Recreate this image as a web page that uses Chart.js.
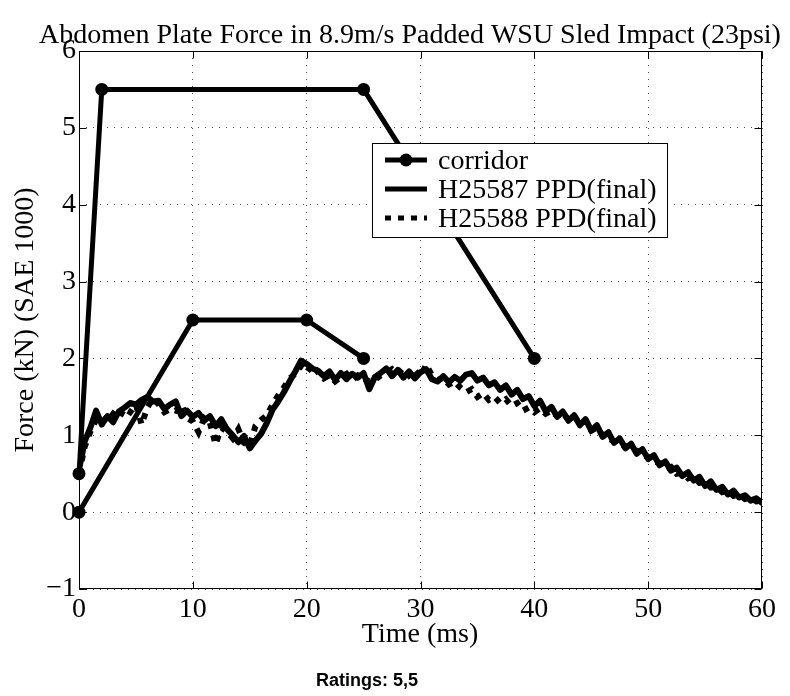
<!DOCTYPE html>
<html><head><meta charset="utf-8">
<script src="https://cdn.jsdelivr.net/npm/chart.js@4/dist/chart.umd.min.js"></script>
<style>html,body{margin:0;padding:0;background:#fff;} canvas{display:block;}</style>
</head><body>
<canvas id="c" width="790" height="696"></canvas>
<script>
const chartTitle = 'Abdomen Plate Force in 8.9m/s Padded WSU Sled Impact (23psi)';
const xAxisTitle = 'Time (ms)';
const yAxisTitle = 'Force (kN) (SAE 1000)';
const footnote = 'Ratings: 5,5';
const seriesNames = ['corridor', 'H25587 PPD(final)', 'H25588 PPD(final)'];
const xTickValues = [0, 10, 20, 30, 40, 50, 60];
const yTickValues = [-1, 0, 1, 2, 3, 4, 5, 6];

const corridorUpperTime = [0, 2, 25, 40];
const corridorUpperForce = [0.5, 5.5, 5.5, 2];
const corridorLowerTime = [0, 10, 20, 25];
const corridorLowerForce = [0, 2.5, 2.5, 2];

const sampleStepMs = 0.5;
const h25587 = [
 0.55,0.92,1.10,1.32,1.14,1.25,1.17,1.31,1.36,1.42,
 1.40,1.46,1.50,1.44,1.45,1.34,1.40,1.44,1.25,1.32,
 1.24,1.29,1.19,1.25,1.12,1.21,1.08,1.00,0.91,0.99,
 0.83,0.93,1.02,1.16,1.33,1.44,1.56,1.70,1.83,1.97,
 1.93,1.87,1.84,1.77,1.83,1.72,1.81,1.73,1.80,1.75,
 1.81,1.60,1.76,1.81,1.87,1.77,1.85,1.75,1.83,1.74,
 1.82,1.86,1.73,1.70,1.77,1.69,1.76,1.71,1.79,1.81,
 1.71,1.75,1.65,1.69,1.59,1.65,1.53,1.59,1.47,1.51,
 1.38,1.45,1.31,1.37,1.24,1.31,1.19,1.26,1.13,1.21,
 1.06,1.13,0.98,1.04,0.90,0.96,0.83,0.89,0.76,0.82,
 0.69,0.74,0.61,0.66,0.54,0.58,0.47,0.52,0.41,0.46,
 0.34,0.40,0.29,0.33,0.23,0.28,0.19,0.22,0.15,0.18,
 0.12
];
const h25588 = [
 0.50,0.85,1.05,1.20,1.25,1.18,1.28,1.22,1.35,1.30,
 1.40,1.14,1.36,1.48,1.40,1.30,1.34,1.32,1.40,1.22,
 1.18,1.04,1.22,1.16,0.88,1.10,1.05,0.96,1.08,0.90,
 0.86,1.12,1.20,1.26,1.40,1.52,1.62,1.74,1.80,1.90,
 1.82,1.92,1.82,1.74,1.78,1.70,1.76,1.80,1.72,1.78,
 1.74,1.70,1.72,1.78,1.82,1.86,1.80,1.88,1.78,1.84,
 1.76,1.92,1.78,1.72,1.74,1.66,1.70,1.62,1.56,1.60,
 1.50,1.55,1.46,1.50,1.42,1.47,1.38,1.42,1.32,1.36,
 1.30,1.35,1.28,1.32,1.25,1.29,1.20,1.25,1.15,1.19,
 1.06,1.10,1.00,0.96,0.92,0.88,0.86,0.80,0.80,0.74,
 0.72,0.66,0.64,0.57,0.59,0.50,0.51,0.44,0.46,0.38,
 0.39,0.32,0.33,0.26,0.28,0.21,0.23,0.17,0.19,0.14,
 0.15
];

const SERIF = '"Liberation Serif", "Times New Roman", Times, serif';
const SANS = '"Liberation Sans", Arial, Helvetica, sans-serif';

function pairs(xs, ys) { return xs.map((x, i) => ({x: x, y: ys[i]})); }
function sampled(vals) { return vals.map((v, i) => ({x: i * sampleStepMs, y: v})); }

const corridorStyle = {
  borderColor: '#000', backgroundColor: '#000', borderWidth: 5,
  pointRadius: 6.5, pointBackgroundColor: '#000', pointBorderColor: '#000', pointBorderWidth: 0,
  showLine: true, clip: false, tension: 0, borderJoinStyle: 'round'
};

const frame = {
  id: 'frame',
  afterDatasetsDraw(chart) {
    const {ctx, chartArea: a, scales: {x, y}} = chart;
    ctx.save();
    ctx.strokeStyle = '#000';
    ctx.lineWidth = 1;
    ctx.setLineDash([]);
    const L = Math.round(a.left) + 0.5, R = Math.round(a.right) - 0.5;
    const T = Math.round(a.top) + 0.5, B = Math.round(a.bottom) - 0.5;
    ctx.strokeRect(L, T, R - L, B - T);
    const tl = 7;
    ctx.beginPath();
    x.ticks.forEach(t => {
      const px = Math.round(x.getPixelForValue(t.value)) + 0.5;
      ctx.moveTo(px, B); ctx.lineTo(px, B - tl);
      ctx.moveTo(px, T); ctx.lineTo(px, T + tl);
    });
    y.ticks.forEach(t => {
      const py = Math.round(y.getPixelForValue(t.value)) + 0.5;
      ctx.moveTo(L, py); ctx.lineTo(L + tl, py);
      ctx.moveTo(R, py); ctx.lineTo(R - tl, py);
    });
    ctx.stroke();
    ctx.restore();
  }
};

const legendBox = {
  id: 'legendBox',
  afterDraw(chart) {
    const {ctx} = chart;
    const items = chart.data.datasets.filter(d => !d.hideInLegend)
      .sort((p, q) => seriesNames.indexOf(p.label) - seriesNames.indexOf(q.label));
    const left = 372, top = 143, w = 295, h = 94;
    ctx.save();
    ctx.fillStyle = '#fff';
    ctx.fillRect(left, top, w, h);
    ctx.strokeStyle = '#000';
    ctx.lineWidth = 1;
    ctx.strokeRect(left + 0.5, top + 0.5, w, h);
    items.forEach((d, i) => {
      const cy = top + 17 + i * 29;
      const x1 = left + 13, x2 = left + 55;
      ctx.strokeStyle = d.borderColor;
      ctx.lineWidth = d.legendWidth || d.borderWidth;
      ctx.setLineDash(d.borderDash || []);
      ctx.lineCap = 'butt';
      ctx.beginPath(); ctx.moveTo(x1, cy); ctx.lineTo(x2, cy); ctx.stroke();
      ctx.setLineDash([]);
      if (d.pointRadius > 0) {
        ctx.fillStyle = d.pointBackgroundColor;
        ctx.beginPath(); ctx.arc((x1 + x2) / 2, cy, d.pointRadius, 0, Math.PI * 2); ctx.fill();
      }
      ctx.fillStyle = '#000';
      ctx.font = '28px ' + SERIF;
      ctx.textAlign = 'left';
      ctx.textBaseline = 'alphabetic';
      ctx.fillText(d.label, left + 66, cy + 9);
    });
    ctx.restore();
  }
};

const texts = {
  id: 'texts',
  afterDraw(chart) {
    const {ctx} = chart;
    ctx.save();
    ctx.fillStyle = '#000';
    ctx.textBaseline = 'alphabetic';
    ctx.textAlign = 'center';
    ctx.font = '28px ' + SERIF;
    ctx.fillText(chartTitle, 410, 43);
    ctx.fillText(xAxisTitle, 420, 642);
    ctx.save();
    ctx.translate(33, 320);
    ctx.rotate(-Math.PI / 2);
    ctx.fillText(yAxisTitle, 0, 0);
    ctx.restore();
    ctx.font = 'bold 18px ' + SANS;
    ctx.fillText(footnote, 367, 686);
    ctx.restore();
  }
};

new Chart(document.getElementById('c'), {
  type: 'scatter',
  data: {
    datasets: [
      Object.assign({label: seriesNames[0], data: pairs(corridorUpperTime, corridorUpperForce)}, corridorStyle),
      Object.assign({label: seriesNames[0], hideInLegend: true, data: pairs(corridorLowerTime, corridorLowerForce)}, corridorStyle),
      {label: seriesNames[2], data: sampled(h25588), borderColor: '#000', borderWidth: 6, legendWidth: 5,
       borderDash: [6, 7], pointRadius: 0, showLine: true, tension: 0},
      {label: seriesNames[1], data: sampled(h25587), borderColor: '#000', borderWidth: 6, legendWidth: 5,
       pointRadius: 0, showLine: true, tension: 0, borderJoinStyle: 'round', borderCapStyle: 'round'}
    ]
  },
  options: {
    responsive: false,
    animation: false,
    events: [],
    devicePixelRatio: 1,
    layout: {padding: {left: 0, right: 28, top: 51, bottom: 57}},
    plugins: {legend: {display: false}, tooltip: {enabled: false}, title: {display: false}},
    scales: {
      x: {
        type: 'linear', min: 0, max: 60,
        afterBuildTicks: s => { s.ticks = xTickValues.map(v => ({value: v})); },
        afterFit: s => { s.height = 50; },
        ticks: {color: '#000', font: {family: SERIF, size: 28, lineHeight: 1.2}, padding: 4, maxRotation: 0, autoSkip: false},
        grid: {color: 'rgba(0,0,0,0.7)', lineWidth: 1, drawTicks: false},
        border: {display: false, dash: [1, 6]}
      },
      y: {
        type: 'linear', min: -1, max: 6,
        afterBuildTicks: s => { s.ticks = yTickValues.map(v => ({value: v})); },
        afterFit: s => { s.width = 79; },
        ticks: {color: '#000', font: {family: SERIF, size: 28, lineHeight: 1.2}, padding: 3, autoSkip: false,
                callback: v => v < 0 ? '\u2212' + Math.abs(v) : String(v)},
        grid: {color: 'rgba(0,0,0,0.7)', lineWidth: 1, drawTicks: false},
        border: {display: false, dash: [1, 6]}
      }
    }
  },
  plugins: [frame, legendBox, texts]
});
</script>
</body></html>
